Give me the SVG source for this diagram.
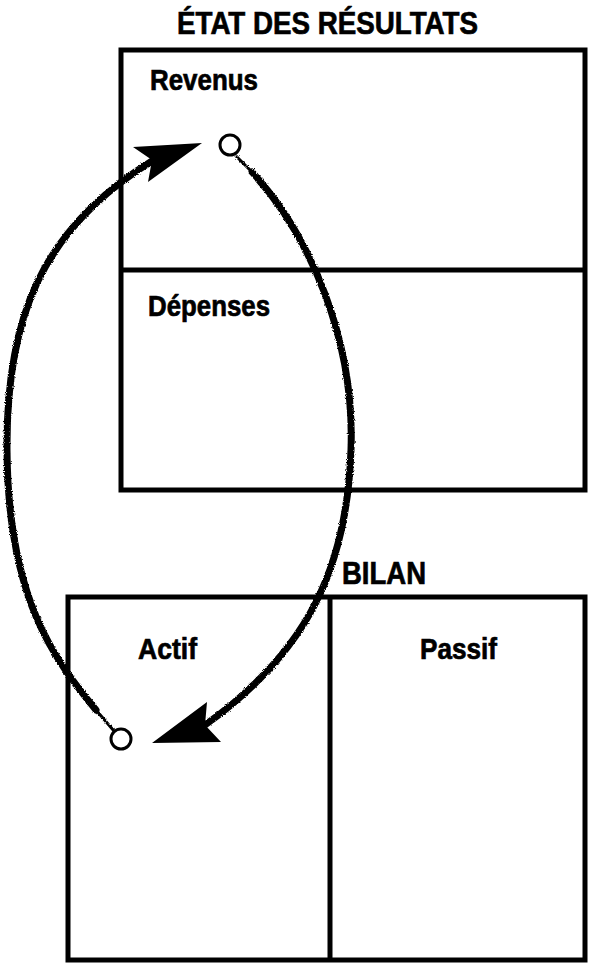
<svg xmlns="http://www.w3.org/2000/svg" width="589" height="965" viewBox="0 0 589 965">
<style>
.box{fill:none;stroke:#000;stroke-width:5}
.lbl{font-family:"Liberation Sans Narrow","Liberation Sans",Arial,sans-serif;font-weight:bold;fill:#000;stroke:#000;stroke-width:0.7}
.curve{fill:none;stroke:#000;stroke-width:7;stroke-linecap:round}
.tail{fill:none;stroke:#000;stroke-width:3;stroke-linecap:round}
.head{fill:#000;stroke:none}
.dot{fill:#fff;stroke:#000;stroke-width:3}
</style>
<defs>
<filter id="rough" x="-10%" y="-10%" width="120%" height="120%">
<feTurbulence type="fractalNoise" baseFrequency="0.9" numOctaves="2" seed="3"/>
<feDisplacementMap in="SourceGraphic" scale="3" xChannelSelector="R" yChannelSelector="G"/>
</filter>
</defs>
<g id="etat-resultats">
<text class="lbl" x="177" y="34" font-size="32" textLength="301" lengthAdjust="spacingAndGlyphs">ÉTAT DES RÉSULTATS</text>
<rect class="box" x="121" y="50" width="464" height="440"/>
<line class="box" x1="121" y1="270" x2="585" y2="270"/>
<text class="lbl" x="150" y="90" font-size="30" textLength="108" lengthAdjust="spacingAndGlyphs">Revenus</text>
<text class="lbl" x="148" y="316" font-size="30" textLength="122" lengthAdjust="spacingAndGlyphs">Dépenses</text>
</g>
<g id="bilan">
<text class="lbl" x="342" y="584" font-size="32" textLength="84" lengthAdjust="spacingAndGlyphs">BILAN</text>
<rect class="box" x="68" y="597" width="517" height="363"/>
<line class="box" x1="330" y1="597" x2="330" y2="960"/>
<text class="lbl" x="138" y="659" font-size="30" textLength="59" lengthAdjust="spacingAndGlyphs">Actif</text>
<text class="lbl" x="420" y="659" font-size="30" textLength="77" lengthAdjust="spacingAndGlyphs">Passif</text>
</g>
<g id="connectors">
<g filter="url(#rough)">
<path class="tail" d="M114 731 L96 710"/>
<path class="curve" d="M96 710 C55 660 8 600 7 450 C6 320 40 230 152 161"/>
<path class="tail" d="M236 156 L252 172"/>
<path class="curve" d="M252 172 C310 235 355 340 351 450 C347 565 310 650 205 725"/>
</g>
<polygon class="head" points="202,143 133,147 152,160 148,182"/>
<polygon class="head" points="152,743 207,702 205,725 221,742"/>
<circle class="dot" cx="230" cy="145" r="10"/>
<circle class="dot" cx="121" cy="739" r="10"/>
</g>
</svg>
